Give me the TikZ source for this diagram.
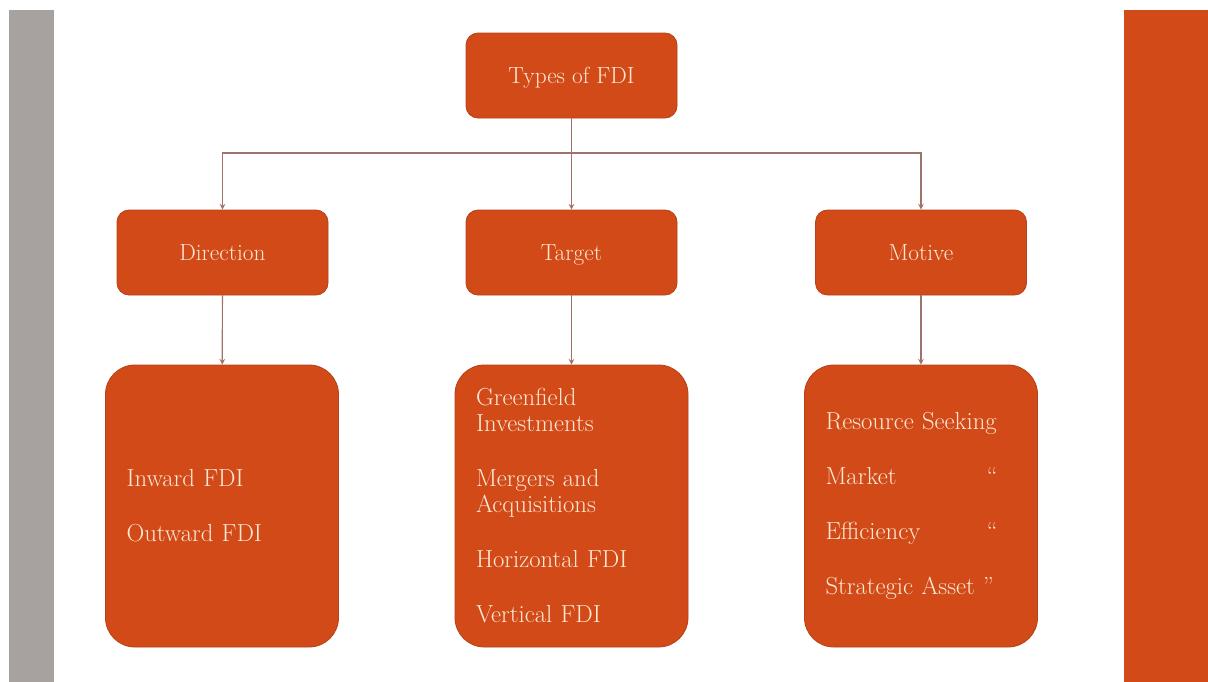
\documentclass[tikz,border=0pt]{standalone}
\usetikzlibrary{arrows}
\definecolor{fdiorange}{HTML}{D14A18}
\definecolor{fdiedge}{HTML}{B5421A}
\definecolor{fdiline}{HTML}{9C7468}
\definecolor{fditext}{HTML}{FDE8D4}
\definecolor{bargray}{HTML}{A7A1A0}
\tikzset{
  headbox/.style={rectangle, rounded corners=9pt, fill=fdiorange, draw=fdiedge, line width=0.6pt,
    text=fditext, minimum width=158.25pt, minimum height=63.75pt, text height=15pt, text depth=3pt,
    font=\fontsize{17.5}{20}\selectfont},
  listbox/.style={rectangle, rounded corners=22pt, fill=fdiorange, draw=fdiedge, line width=0.6pt,
    text=fditext, minimum height=211.5pt, text width=143.25pt, inner xsep=15.75pt, align=left,
    font=\fontsize{18.5}{19.5}\selectfont},
  link/.style={draw=fdiline, line width=0.9pt}
}
\begin{document}
\begin{tikzpicture}[x=0.75pt, y=-0.75pt]
      \useasboundingbox (0,0) rectangle (1208,682);
      % side bars
      \fill[bargray] (9,10) rectangle (54,682);
      \fill[fdiorange] (1124,10) rectangle (1208,682);
      \node[headbox] (types) at (571.5,75.5) {Types of FDI};
      \node[headbox] (direction) at (222.5,252.5) {Direction};
      \node[headbox] (target) at (571.5,252.5) {Target};
      \node[headbox] (motive) at (921,252.5) {Motive};
      \node[listbox] (dirlist) at (222,506) {Inward FDI\\[21.75pt] Outward FDI};
      \node[listbox] (targetlist) at (571.5,506) {Greenfield\\ Investments\\[21.75pt]
        Mergers and\\ Acquisitions\\[21.75pt] Horizontal FDI\\[21.75pt] Vertical FDI};
      \node[listbox] (motivelist) at (921,506) {Resource Seeking\\[21.75pt]
        \makebox[121pt][l]{Market}``\\[21.75pt] \makebox[121pt][l]{Efficiency}``\\[21.75pt]
        Strategic Asset~''};
      \coordinate (split) at (571.5,153);
      \draw[link,->,>=stealth] (types) -- (target);
      \draw[link,->,>=stealth] (split) -| (direction);
      \draw[link,->,>=stealth] (split) -| (motive);
      \draw[link,->,>=stealth] (direction) -- (dirlist);
      \draw[link,->,>=stealth] (target) -- (targetlist);
      \draw[link,->,>=stealth] (motive) -- (motivelist);
    \end{tikzpicture}
\end{document}
